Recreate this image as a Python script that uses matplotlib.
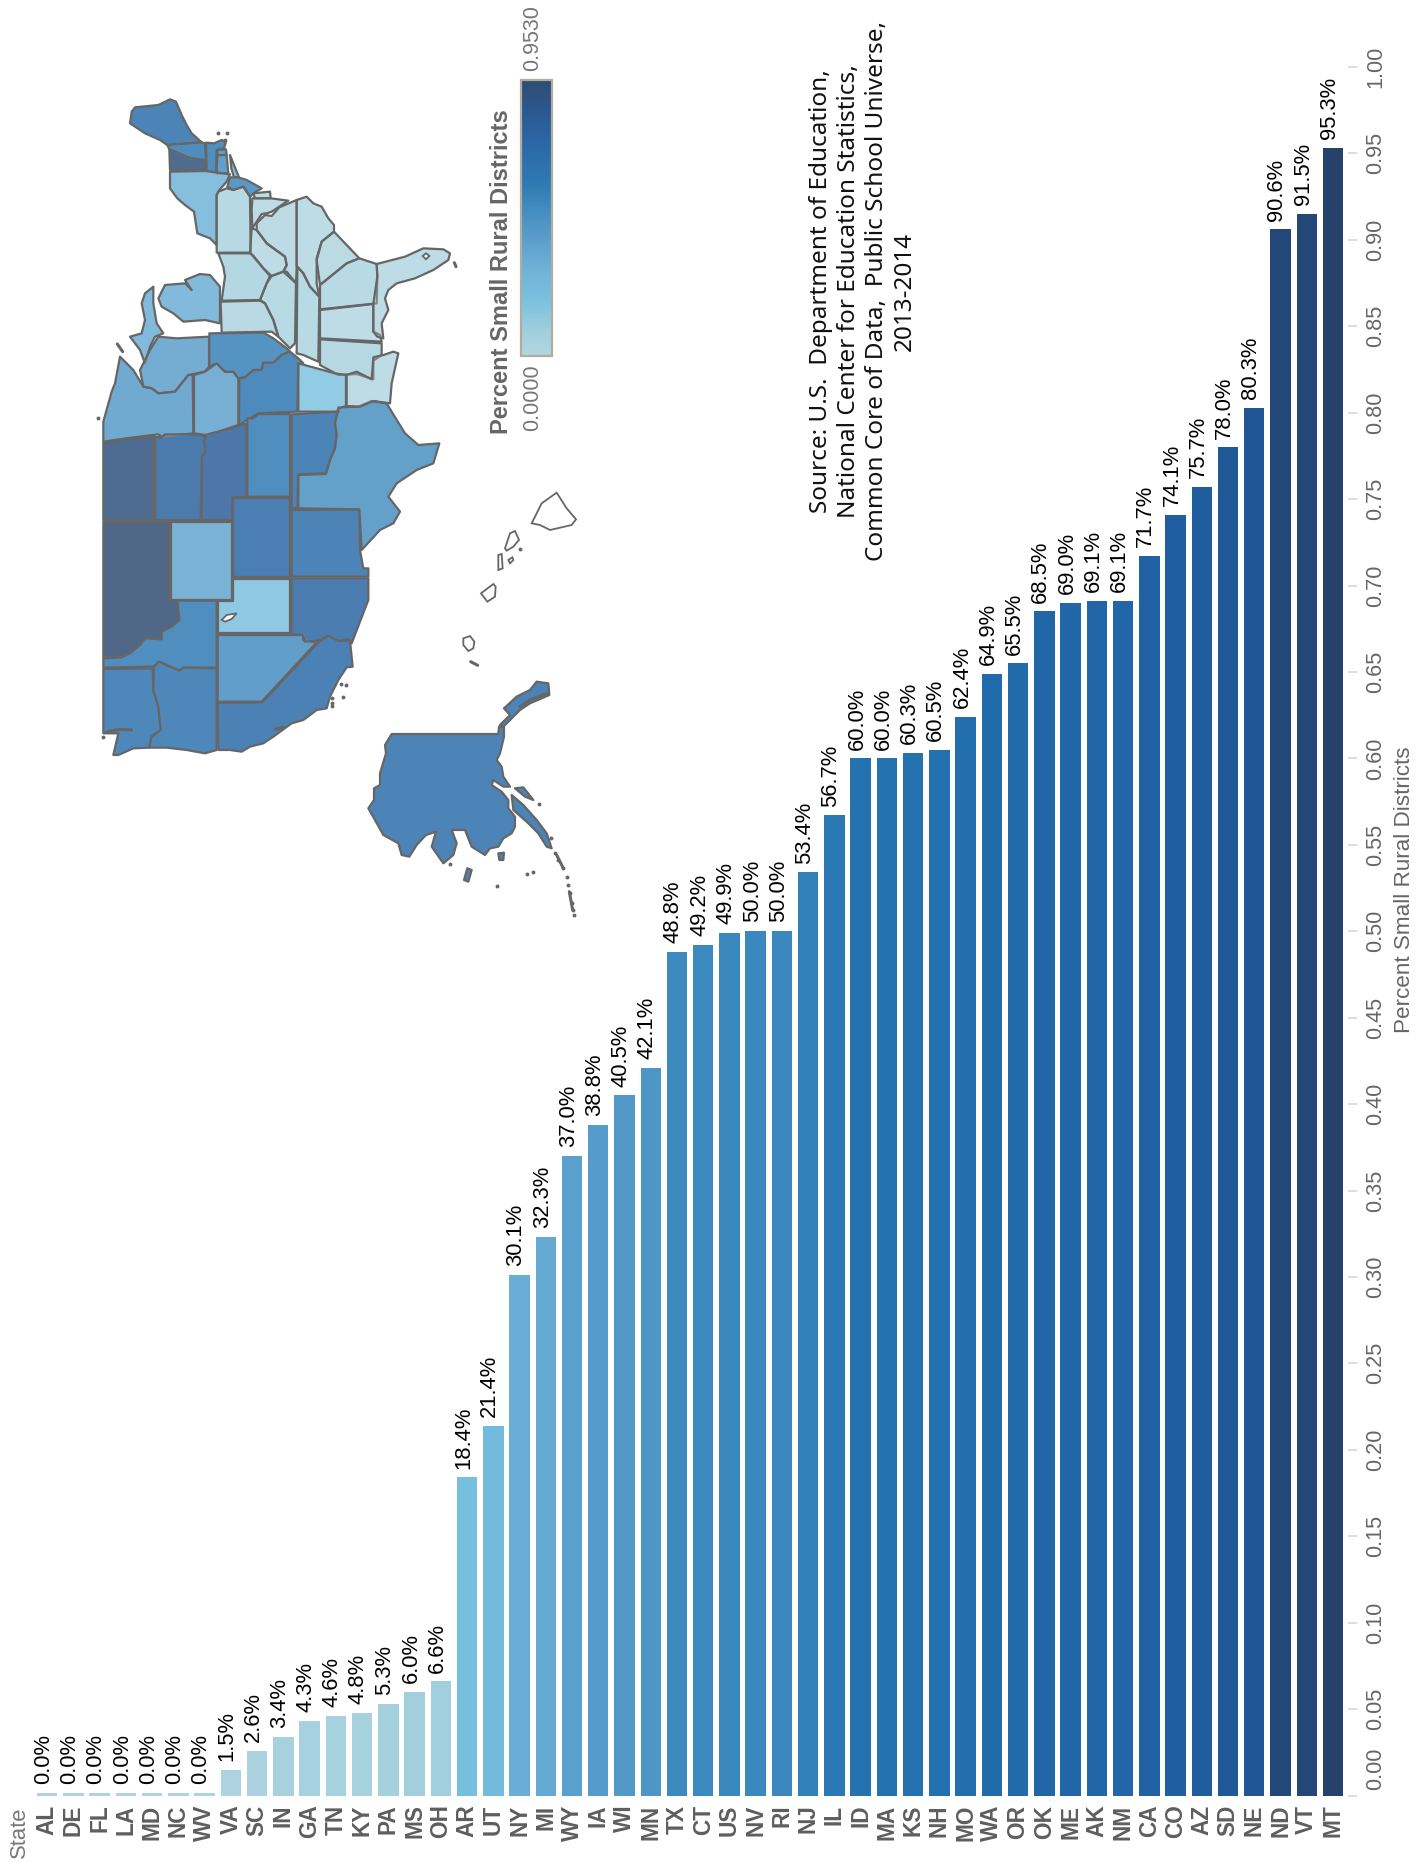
import numpy as np
import matplotlib
matplotlib.use("Agg")
import matplotlib.pyplot as plt
from matplotlib.colors import LinearSegmentedColormap
from matplotlib.patches import Polygon, Rectangle
from matplotlib.transforms import ScaledTranslation

STATES = ["AL","DE","FL","LA","MD","NC","WV","VA","SC","IN","GA","TN","KY","PA","MS","OH","AR","UT",
          "NY","MI","WY","IA","WI","MN","TX","CT","US","NV","RI","NJ","IL","ID","MA","KS","NH","MO",
          "WA","OR","OK","ME","AK","NM","CA","CO","AZ","SD","NE","ND","VT","MT"]
SHARE = [0.0,0.0,0.0,0.0,0.0,0.0,0.0,1.5,2.6,3.4,4.3,4.6,4.8,5.3,6.0,6.6,18.4,21.4,
         30.1,32.3,37.0,38.8,40.5,42.1,48.8,49.2,49.9,50.0,50.0,53.4,56.7,60.0,60.0,60.3,60.5,62.4,
         64.9,65.5,68.5,69.0,69.1,69.1,71.7,74.1,75.7,78.0,80.3,90.6,91.5,95.3]
TICKS = [i * 0.05 for i in range(21)]
SOURCE = ("Source: U.S.  Department of Education,\nNational Center for Education Statistics,\n"
          "Common Core of Data,  Public School Universe,\n2013-2014")
TITLE = "Percent Small Rural Districts"

COLOR_VALUES = [0.0, 0.066, 0.184, 0.30, 0.42, 0.50, 0.60, 0.75, 0.85, 0.953]
COLOR_STOPS = ["#AFD4DF", "#A2CFDD", "#76BFDE", "#69AED6", "#4F96C6", "#3A88BE", "#2472B0", "#1F5E9F", "#204F88", "#25426B"]
cmap = LinearSegmentedColormap.from_list("rural", [(v / 0.953, c) for v, c in zip(COLOR_VALUES, COLOR_STOPS)])

W, H = 1425, 1862
GRAY = "#666666"
SANS = ["Liberation Sans", "DejaVu Sans"]
plt.rcParams["font.family"] = SANS

# ---- outlines; each group uses its own crop origin
ORIGINS = {"a": (90, 90), "b": (90, 320), "c": (90, 520), "d": (350, 480)}
OUTLINES = {
 "ME": ("a", [(120,100),(125,65),(135,52),(205,45),(240,28),(258,35),(275,75),(290,105),(305,130),(335,157),(232,165),(210,150),(165,130),(135,110)]),
 "NH": ("a", [(232,165),(335,157),(345,160),(348,210),(300,205),(255,185),(238,178)]),
 "VT": ("a", [(238,180),(255,185),(300,205),(345,212),(347,240),(240,240)]),
 "MA": ("a", [(348,158),(372,160),(395,150),(408,155),(402,175),(380,180),(378,248),(350,243)]),
 "CT": ("a", [(382,195),(410,195),(415,250),(380,250)]),
 "RI": ("a", [(382,180),(408,178),(410,195),(382,195)]),
 "NY": ("a", [(240,245),(350,243),(420,253),(410,275),(388,300),(380,315),(380,465),(360,445),(322,430),(312,365),(285,345),(262,325),(240,295)]),
 "NY2": ("a", [(420,195),(432,225),(447,262),(432,262),(424,235)]),
 "NJ": ("a", [(420,262),(445,262),(470,270),(515,295),(490,310),(480,320),(460,290),(430,300),(412,290)]),
 "PA": ("a", [(385,305),(410,295),(430,300),(460,290),(480,320),(482,488),(380,488),(380,315)]),
 "DE": ("a", [(490,310),(540,305),(542,325),(495,325)]),
 "MD": ("a", [(487,325),(542,325),(595,332),(575,345),(545,365),(530,370),(515,372),(500,395),(487,415),(485,360)]),
 "VA": ("a", [(500,400),(525,375),(545,378),(568,352),(615,332),(620,330),(620,528),(618,580),(590,545),(580,545),(590,525),(585,500),(530,460),(500,420)]),
 "WV": ("a", [(485,415),(500,420),(530,460),(585,500),(590,525),(580,545),(545,558),(520,535),(490,497),(480,490)]),
 "KY": ("a", [(545,558),(580,545),(618,580),(615,760),(600,775),(565,740),(550,690),(525,640),(510,630),(530,580)]),
 "OH": ("a", [(385,490),(482,490),(520,535),(540,558),(530,580),(510,630),(395,632),(405,560),(400,530)]),
 "IN": ("a", [(392,635),(510,632),(525,640),(550,690),(565,740),(545,725),(395,728)]),
 "MI": ("a", [(205,625),(225,585),(285,580),(305,600),(285,570),(330,552),(360,555),(390,590),(390,700),(345,690),(280,695),(250,670),(215,650)]),
 "MI2": ("a", [(190,590),(190,640),(200,700),(220,730),(195,740),(180,770),(165,820),(150,780),(120,740),(155,730),(165,690),(155,640),(165,610)]),
 "TN": ("a", [(622,530),(640,550),(660,590),(688,620),(685,815),(640,795),(620,790)]),
 "NC": ("a", [(620,330),(650,320),(670,340),(695,350),(715,385),(732,405),(732,425),(695,455),(680,505),(680,580),(688,620),(660,590),(640,550),(620,528)]),
 "SC": ("a", [(680,510),(695,455),(732,425),(808,505),(770,520),(690,585)]),
 "GA": ("a", [(690,585),(770,520),(808,505),(860,522),(862,560),(860,640),(690,658)]),
 "AL": ("a", [(690,660),(850,642),(850,725),(870,735),(875,755),(690,745)]),
 "MS": ("a", [(690,748),(875,760),(875,795),(850,812),(850,868),(800,852),(745,855),(690,825)]),
 "FL": ("a", [(860,522),(945,500),(1000,475),(1060,478),(1080,490),(1075,510),(1030,540),(975,565),(920,580),(895,600),(885,625),(895,660),(875,700),(880,745),(862,740),(850,725),(850,642),(862,560)]),
 "WI": ("b", [(205,50),(260,55),(357,50),(357,140),(345,155),(295,165),(255,215),(205,220),(185,205),(160,200),(150,150),(180,90)]),
 "MN": ("b", [(40,305),(65,215),(75,190),(90,110),(130,150),(160,200),(185,205),(205,220),(255,215),(295,165),(308,165),(310,340),(215,350),(205,343),(130,352),(40,365)]),
 "IA": ("b", [(312,165),(345,155),(380,130),(405,155),(430,155),(445,175),(445,315),(385,335),(348,345),(312,340)]),
 "IL": ("b", [(358,40),(520,38),(550,55),(590,85),(600,95),(575,105),(550,130),(520,130),(515,150),(490,150),(465,172),(445,175),(430,155),(405,155),(380,130),(358,140)]),
 "MO": ("b", [(448,175),(465,172),(490,150),(515,150),(520,128),(550,128),(575,105),(600,95),(625,115),(640,130),(625,130),(622,275),(505,280),(480,295),(447,315)]),
 "KS": ("b", [(472,295),(490,295),(505,282),(600,282),(600,530),(472,530)]),
 "NE": ("b", [(347,345),(385,335),(445,318),(470,310),(470,530),(427,533),(427,600),(335,600),(335,410),(345,395),(342,365)]),
 "SD": ("b", [(195,350),(215,352),(225,343),(315,343),(345,347),(342,365),(345,395),(335,410),(332,600),(195,600)]),
 "ND": ("b", [(40,368),(90,360),(190,350),(190,600),(40,600)]),
 "CO": ("b", [(428,535),(600,535),(600,770),(428,770)]),
 "NM": ("b", [(605,570),(808,568),(810,690),(820,745),(835,745),(835,770),(605,770)]),
 "OK": ("b", [(605,283),(745,275),(735,310),(740,345),(735,385),(720,420),(708,460),(625,463),(622,565),(605,565)]),
 "TX": ("b", [(625,465),(708,462),(720,420),(735,385),(740,345),(735,310),(745,262),(805,260),(845,243),(890,250),(905,275),(945,340),(985,375),(1048,370),(1030,430),(980,450),(920,490),(895,530),(930,575),(910,610),(870,630),(815,690),(808,568),(625,565)]),
 "AR": ("b", [(625,130),(680,145),(735,160),(768,165),(768,258),(745,265),(745,275),(625,275)]),
 "LA": ("b", [(770,165),(800,155),(845,178),(850,112),(880,105),(910,95),(925,100),(905,190),(900,250),(850,243),(810,260),(770,258)]),
 "MT": ("c", [(40,5),(238,5),(238,240),(262,242),(268,300),(245,320),(215,335),(215,358),(165,355),(150,375),(120,400),(95,410),(40,412)]),
 "WY": ("c", [(242,5),(425,5),(425,240),(242,240)]),
 "UT": ("c", [(430,178),(600,178),(600,340),(383,340),(383,243),(430,243)]),
 "ID": ("c", [(40,415),(95,412),(120,400),(150,375),(165,355),(215,358),(215,335),(245,320),(268,300),(262,242),(380,242),(380,443),(280,443),(268,452),(240,440),(207,425),(190,440),(40,443)]),
 "WA": ("c", [(40,447),(188,445),(190,510),(205,560),(212,630),(185,650),(178,683),(130,685),(85,705),(70,705),(85,640),(55,640),(40,640)]),
 "OR": ("c", [(192,440),(207,425),(240,440),(268,452),(280,443),(380,445),(380,690),(345,700),(290,690),(230,683),(178,683),(185,650),(212,630),(205,560),(190,510)]),
 "NV": ("c", [(383,345),(640,345),(640,360),(680,367),(515,545),(383,545)]),
 "CA": ("c", [(383,548),(517,547),(685,367),(715,347),(745,362),(780,362),(788,440),(770,442),(745,480),(720,530),(710,565),(680,570),(640,600),(605,610),(550,650),(520,670),(480,680),(455,695),(420,690),(385,690)]),
 "AZ": ("c", [(605,175),(835,175),(835,240),(785,370),(778,358),(745,362),(715,347),(685,362),(645,365),(638,345),(605,342)]),
 "AK": ("d", [(125,762),(445,762),(447,740),(462,740),(462,770),(450,820),(440,840),(455,860),(460,890),(480,920),(460,920),(430,900),(425,915),(455,935),(475,960),(475,985),(495,1010),(495,1040),(485,1060),(460,1075),(445,1100),(420,1105),(405,1125),(365,1100),(355,1075),(345,1050),(305,1050),(320,1090),(310,1125),(280,1150),(245,1100),(258,1055),(228,1065),(200,1095),(178,1130),(155,1125),(145,1090),(100,1065),(75,1020),(55,985),(72,960),(72,925),(90,915),(90,880),(108,820),(105,795)]),
 "AK2": ("d", [(462,685),(500,650),(540,630),(560,605),(595,610),(598,645),(540,670),(510,690),(480,720),(460,740),(450,735),(480,705)]),
 "AK3": ("d", [(485,945),(520,975),(560,1020),(590,1060),(605,1105),(590,1100),(565,1060),(530,1025),(490,990)]),
 "AK4": ("d", [(495,925),(520,922),(550,960),(525,950)]),
 "AK5": ("d", [(445,1120),(462,1118),(460,1140),(448,1140)]),
 "AK6": ("d", [(342,1200),(352,1165),(365,1170),(355,1205)]),
}
NO_DATA_OUTLINES = [
 ("d", [(545,130),(575,70),(620,38),(650,85),(678,118),(665,135),(600,150),(570,135)]),
 ("d", [(465,205),(480,160),(495,153),(507,180),(490,200),(470,212)]),
 ("d", [(445,225),(455,222),(458,265),(445,270)]),
 ("d", [(475,240),(487,232),(490,240),(480,250)]),
 ("d", [(393,340),(430,312),(437,320),(435,350),(412,365)]),
 ("d", [(340,475),(360,468),(373,485),(370,505),(355,513),(340,495)]),
 ("a", [(998,498),(1008,490),(1018,498),(1008,508)]),
 ("c", [(395,300),(410,285),(440,280),(425,297),(405,305)]),
]
COAST_STROKES = [
 ("c", [(50,635),(90,628),(125,630)]), ("c", [(555,628),(580,622)]),
 ("a", [(82,762),(98,785)]), ("a", [(1093,518),(1098,530)]),
 ("d", [(362,545),(383,556)]),
 ("d", [(510,680),(540,660),(590,640)]), ("d", [(620,1125),(640,1165)]), ("d", [(658,1235),(668,1290)]),
]
COAST_DOTS = [
 ("d", [(568,972),(602,1075),(615,1120),(625,1140),(640,1165),(650,1190),(655,1215),(660,1240),(665,1270),(668,1290),(672,1305),(548,1175),(532,1183),(442,1218),(300,1152),(510,208)]),
 ("c", [(752,492),(767,496),(758,530),(727,535),(725,548),(727,558),(40,650)]),
 ("b", [(25,295)]),
 ("a", [(385,130),(412,130),(405,150)]),
]

def to_px(group, pts):
    ox, oy = ORIGINS[group]
    return [(ox + x / 3, oy + y / 3) for x, y in pts]

fig = plt.figure(figsize=(W / 100, H / 100), dpi=100, facecolor="white")

# ---- bars
LEFT, RIGHT, TOP, BOTTOM = 34.1, 1348.0, 67.0, 1795.5
ZERO_STUB = 0.0017
ax = fig.add_axes([LEFT / W, 1 - BOTTOM / H, (RIGHT - LEFT) / W, (BOTTOM - TOP) / H])
share = np.array(SHARE) / 100
x = np.arange(len(STATES))
ax.bar(x, np.maximum(share, ZERO_STUB), width=0.78, color=cmap(share / 0.953), linewidth=0)
ax.set_xlim(-0.5, 49.5 + 1.9 / 26.24)
ax.set_ylim(0, 1)
for side in ax.spines.values():
    side.set_visible(False)
ax.yaxis.tick_right()
ax.set_yticks(TICKS)
ax.set_yticklabels([f"{t:.2f}" for t in TICKS], rotation=90, va="center", fontsize=15.6, color=GRAY)
ax.tick_params(axis="y", length=6.5, width=1.4, color="#DDDDDD", pad=6.0)
first = ax.get_yticklabels()[0]
first.set_transform(first.get_transform() + ScaledTranslation(0, 27 / 100, fig.dpi_scale_trans))
ax.set_xticks(x)
ax.set_xticklabels(STATES, rotation=90, ha="center", va="top", fontsize=16.3, fontweight="bold", color="#5E5E5E")
ax.tick_params(axis="x", length=0, pad=6.5)
for xi, v, s in zip(x, np.maximum(share, ZERO_STUB), SHARE):
    ax.annotate(f"{s:.1f}%", (xi, v), xytext=(-2.6, 6.3), textcoords="offset points", rotation=90,
                ha="center", va="bottom", fontsize=15.8, color="black")

# ---- overlay in reference pixels: map, legend, notes
ov = fig.add_axes([0, 0, 1, 1], facecolor="none")
ov.axis("off")
value_of = dict(zip(STATES, share))
for name, (group, pts) in OUTLINES.items():
    ov.add_patch(Polygon(to_px(group, pts), closed=True, facecolor=cmap(value_of[name[:2]] / 0.953),
                         edgecolor="none", zorder=2))
    ov.add_patch(Polygon(to_px(group, pts), closed=True, facecolor=(1, 1, 1, 0.2), edgecolor=GRAY,
                         linewidth=1.6, joinstyle="round", zorder=3))
for group, pts in NO_DATA_OUTLINES:
    ov.add_patch(Polygon(to_px(group, pts), closed=True, facecolor="white", edgecolor=GRAY, linewidth=1.3, zorder=4))
for group, pts in COAST_STROKES:
    p = np.array(to_px(group, pts))
    ov.plot(p[:, 0], p[:, 1], color=GRAY, lw=2.2, solid_capstyle="round", zorder=4)
for group, pts in COAST_DOTS:
    p = np.array(to_px(group, pts))
    ov.plot(p[:, 0], p[:, 1], ls="none", marker="o", ms=2.8, color=GRAY, mec="none", zorder=4)

grad = np.linspace(1, 0, 256).reshape(-1, 1)
ov.imshow(grad, cmap=cmap, aspect="auto", extent=(521, 552, 356, 80), zorder=3, vmin=0, vmax=1, alpha=0.95)
ov.add_patch(Rectangle((521, 80), 31, 276, fill=False, edgecolor="#B0AD9F", linewidth=1.6, zorder=4))
ov.text(502, 272, TITLE, rotation=90, ha="center", va="center", fontsize=17, fontweight="bold", color=GRAY)
ov.text(533, 71, "0.9530", rotation=90, ha="center", va="bottom", fontsize=15.5, color="#777777")
ov.text(533, 364, "0.0000", rotation=90, ha="center", va="top", fontsize=15.5, color="#777777")
ov.text(19, 1807, "State", rotation=90, ha="center", va="top", fontsize=15.8, color="#777777")
ov.text(1405, 890, TITLE, rotation=90, ha="center", va="center", fontsize=16.2, color=GRAY)
ov.text(863, 291, SOURCE, rotation=90, ha="center", va="center", multialignment="center", fontsize=17.5,
        color="#111111", family=["Noto Sans", "DejaVu Sans"], linespacing=1.22)
ov.set_xlim(0, W)
ov.set_ylim(H, 0)

fig.savefig("out.png", dpi=100)
